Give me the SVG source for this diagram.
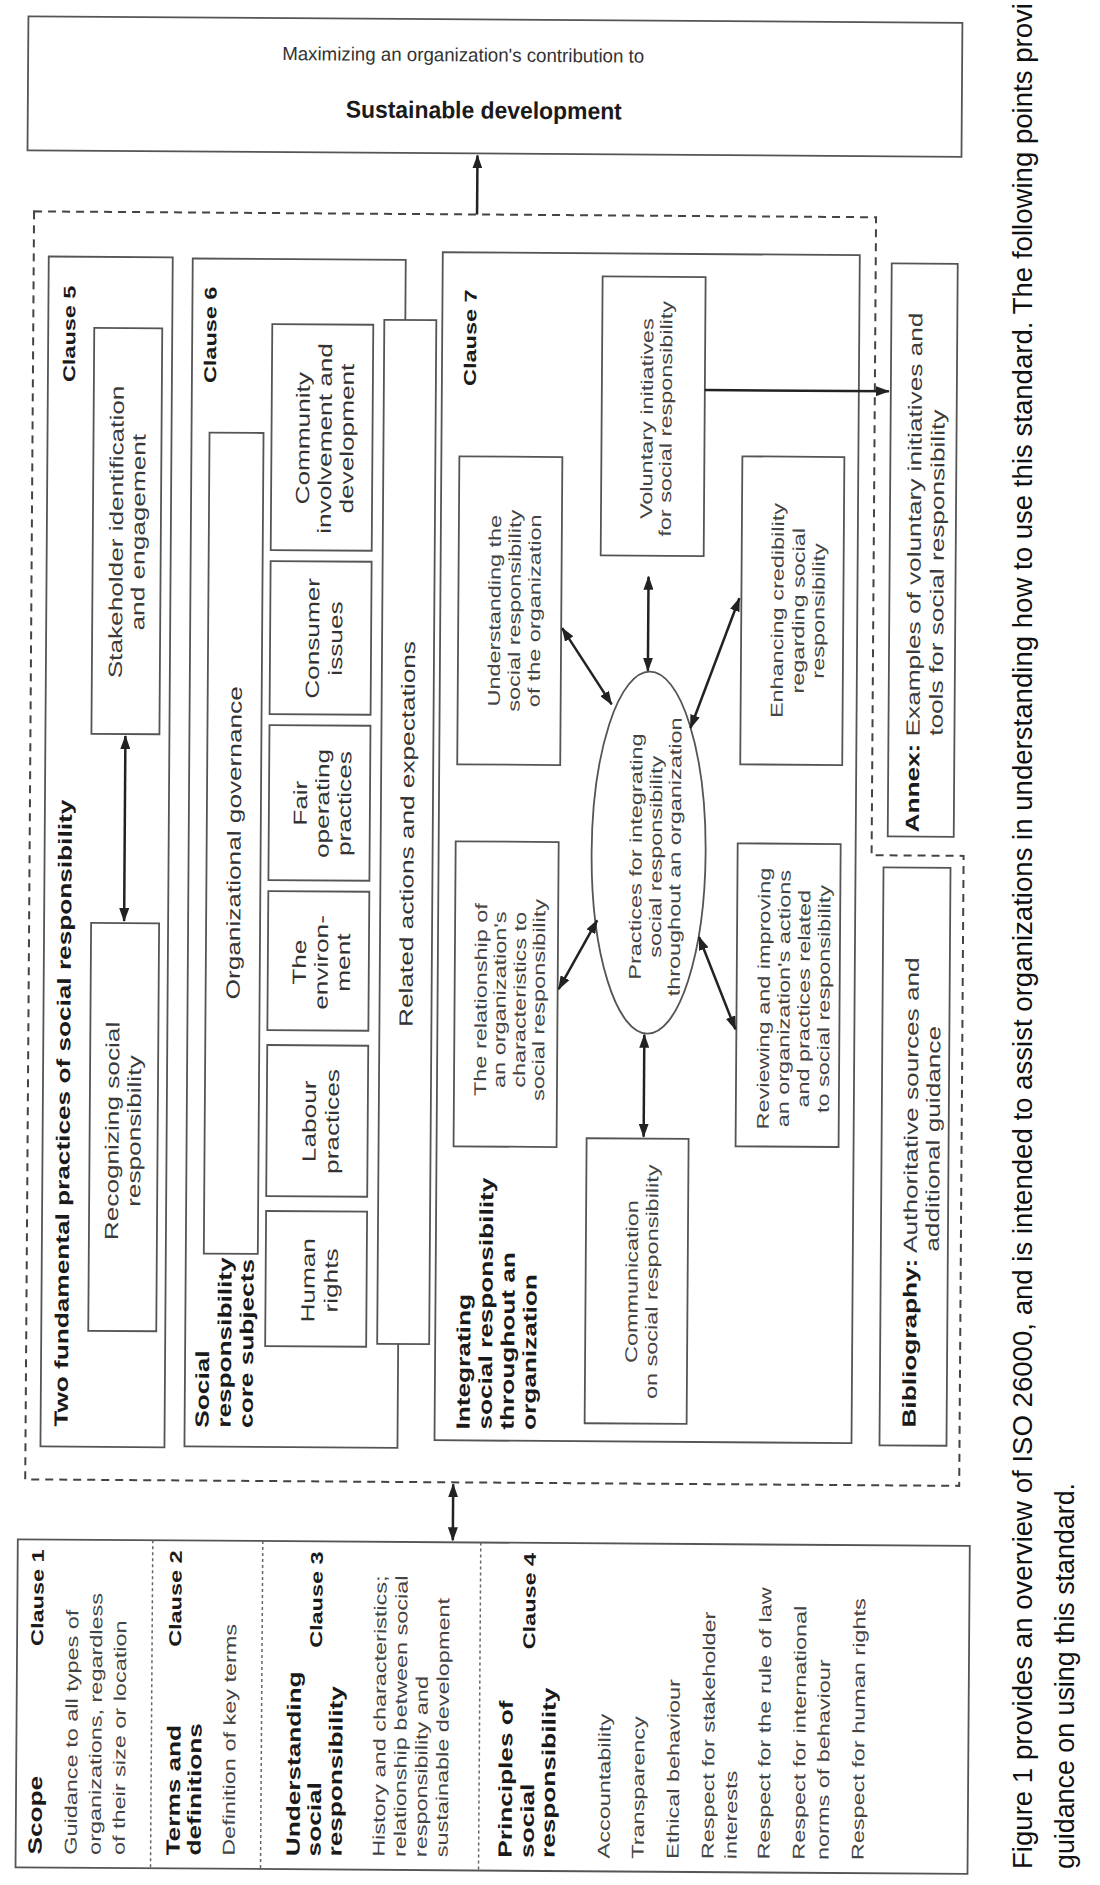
<svg xmlns="http://www.w3.org/2000/svg" width="1100" height="1885" viewBox="0 0 1100 1885">
<defs>
<marker id="ah" viewBox="0 0 14 10" refX="13" refY="5" markerWidth="14" markerHeight="10" markerUnits="userSpaceOnUse" orient="auto-start-reverse">
<path d="M0,0 L14,5 L0,10 z" fill="#222"/>
</marker>
</defs>
<style>
.box{fill:#fff;stroke:#555;stroke-width:1.8}
.dash{fill:none;stroke:#444;stroke-width:2;stroke-dasharray:8 6}
.sep{stroke:#666;stroke-width:1.5;stroke-dasharray:3 3}
.arr{stroke:#222;stroke-width:2.5;fill:none}
text{font-family:"Liberation Sans",Arial,Helvetica,sans-serif}
.r{font-size:17px;fill:#444}
.m{font-size:19px;fill:#3a3a3a}
.rb{font-size:19px;font-weight:bold;fill:#1a1a1a}
.cl{font-size:17px;font-weight:bold;fill:#1a1a1a}
.cs{font-size:19px;fill:#333}
.mid{text-anchor:middle}
.end{text-anchor:end}
.cap{font-size:27px;fill:#111}
</style>
<rect width="1100" height="1885" fill="#fff"/>
<g id="figure" transform="rotate(0.4 550 940)">
<g id="sustainable-development">
<rect class="box" x="22" y="20" width="934" height="134"/>
<text x="457" y="62" text-anchor="middle" font-size="19" fill="#333" textLength="362" lengthAdjust="spacingAndGlyphs">Maximizing an organization's contribution to</text>
<text x="478" y="119" text-anchor="middle" font-size="24" font-weight="bold" fill="#1a1a1a" textLength="276" lengthAdjust="spacingAndGlyphs">Sustainable development</text>
</g>
<path id="dashed-frame" class="dash" d="M29,215 H871 V853 H963 V1483 H29 Z"/>
<g id="clause5">
<rect class="box" x="44" y="260" width="124" height="1190"/>
<text class="rb" transform="translate(71,1430) rotate(-90) scale(1.38,1)">Two fundamental practices of social responsibility</text>
<text class="cl end" transform="translate(71,289) rotate(-90) scale(1.38,1)">Clause 5</text>
</g>
<g id="stakeholder">
<rect class="box" x="90" y="331" width="68" height="406"/>
<text class="m mid" transform="translate(120,535) rotate(-90) scale(1.38,1)">Stakeholder identification</text>
<text class="m mid" transform="translate(142,535) rotate(-90) scale(1.38,1)">and engagement</text>
</g>
<g id="recognizing">
<rect class="box" x="91" y="926" width="68" height="408"/>
<text class="m mid" transform="translate(120,1134) rotate(-90) scale(1.38,1)">Recognizing social</text>
<text class="m mid" transform="translate(142,1134) rotate(-90) scale(1.38,1)">responsibility</text>
</g>
<g id="clause6">
<rect class="box" x="188" y="261" width="213" height="1188"/>
<text class="rb" transform="translate(212,1430) rotate(-90) scale(1.38,1)">Social</text>
<text class="rb" transform="translate(234,1430) rotate(-90) scale(1.38,1)">responsibility</text>
<text class="rb" transform="translate(256,1430) rotate(-90) scale(1.38,1)">core subjects</text>
<text class="cl end" transform="translate(212,289) rotate(-90) scale(1.38,1)">Clause 6</text>
</g>
<g id="org-governance">
<rect class="box" x="206" y="435" width="54" height="821"/>
<text class="cs mid" transform="translate(240,845) rotate(-90) scale(1.38,1)">Organizational governance</text>
</g>
<g id="community">
<rect class="box" x="268" y="326" width="101" height="226"/>
<text class="cs mid" transform="translate(306,440) rotate(-90) scale(1.38,1)">Community</text>
<text class="cs mid" transform="translate(328,440) rotate(-90) scale(1.38,1)">involvement and</text>
<text class="cs mid" transform="translate(350,440) rotate(-90) scale(1.38,1)">development</text>
</g>
<g id="consumer">
<rect class="box" x="268" y="563" width="101" height="153"/>
<text class="cs mid" transform="translate(317,640) rotate(-90) scale(1.38,1)">Consumer</text>
<text class="cs mid" transform="translate(340,640) rotate(-90) scale(1.38,1)">issues</text>
</g>
<g id="fair">
<rect class="box" x="268" y="727" width="101" height="155"/>
<text class="cs mid" transform="translate(306,805) rotate(-90) scale(1.38,1)">Fair</text>
<text class="cs mid" transform="translate(328,805) rotate(-90) scale(1.38,1)">operating</text>
<text class="cs mid" transform="translate(350,805) rotate(-90) scale(1.38,1)">practices</text>
</g>
<g id="environment">
<rect class="box" x="268" y="893" width="101" height="139"/>
<text class="cs mid" transform="translate(306,964) rotate(-90) scale(1.38,1)">The</text>
<text class="cs mid" transform="translate(328,964) rotate(-90) scale(1.38,1)">environ-</text>
<text class="cs mid" transform="translate(350,964) rotate(-90) scale(1.38,1)">ment</text>
</g>
<g id="labour">
<rect class="box" x="268" y="1047" width="101" height="151"/>
<text class="cs mid" transform="translate(317,1123) rotate(-90) scale(1.38,1)">Labour</text>
<text class="cs mid" transform="translate(340,1123) rotate(-90) scale(1.38,1)">practices</text>
</g>
<g id="human-rights">
<rect class="box" x="268" y="1213" width="101" height="135"/>
<text class="cs mid" transform="translate(317,1282) rotate(-90) scale(1.38,1)">Human</text>
<text class="cs mid" transform="translate(340,1282) rotate(-90) scale(1.38,1)">rights</text>
</g>
<g id="related-actions">
<rect class="box" x="380" y="321" width="52" height="1024"/>
<text class="cs mid" transform="translate(413,835) rotate(-90) scale(1.38,1)">Related actions and expectations</text>
</g>
<g id="clause7">
<rect class="box" x="438" y="253" width="417" height="1188"/>
<text class="rb" transform="translate(473,1430) rotate(-90) scale(1.38,1)">Integrating</text>
<text class="rb" transform="translate(495,1430) rotate(-90) scale(1.38,1)">social responsibility</text>
<text class="rb" transform="translate(517,1430) rotate(-90) scale(1.38,1)">throughout an</text>
<text class="rb" transform="translate(539,1430) rotate(-90) scale(1.38,1)">organization</text>
<text class="cl end" transform="translate(472,290) rotate(-90) scale(1.38,1)">Clause 7</text>
</g>
<g id="understanding">
<rect class="box" x="456" y="457" width="103" height="308"/>
<text class="r mid" transform="translate(498,611) rotate(-90) scale(1.38,1)">Understanding the</text>
<text class="r mid" transform="translate(518,611) rotate(-90) scale(1.38,1)">social responsibility</text>
<text class="r mid" transform="translate(538,611) rotate(-90) scale(1.38,1)">of the organization</text>
</g>
<g id="relationship">
<rect class="box" x="455" y="842" width="103" height="305"/>
<text class="r mid" transform="translate(487,1000) rotate(-90) scale(1.38,1)">The relationship of</text>
<text class="r mid" transform="translate(506,1000) rotate(-90) scale(1.38,1)">an organization's</text>
<text class="r mid" transform="translate(526,1000) rotate(-90) scale(1.38,1)">characteristics to</text>
<text class="r mid" transform="translate(545,1000) rotate(-90) scale(1.38,1)">social responsibility</text>
</g>
<g id="communication">
<rect class="box" x="588" y="1138" width="102" height="285"/>
<text class="r mid" transform="translate(640,1281) rotate(-90) scale(1.38,1)">Communication</text>
<text class="r mid" transform="translate(660,1281) rotate(-90) scale(1.38,1)">on social responsibility</text>
</g>
<g id="practices">
<ellipse cx="648" cy="852" rx="57" ry="181" fill="#fff" stroke="#555" stroke-width="1.8"/>
<text class="r mid" transform="translate(641,856) rotate(-90) scale(1.38,1)">Practices for integrating</text>
<text class="r mid" transform="translate(661,856) rotate(-90) scale(1.38,1)">social responsibility</text>
<text class="r mid" transform="translate(680,856) rotate(-90) scale(1.38,1)">throughout an organization</text>
</g>
<g id="voluntary">
<rect class="box" x="598" y="276" width="103" height="279"/>
<text class="r mid" transform="translate(649,418) rotate(-90) scale(1.38,1)">Voluntary initiatives</text>
<text class="r mid" transform="translate(668,418) rotate(-90) scale(1.38,1)">for social responsibility</text>
</g>
<g id="enhancing">
<rect class="box" x="739" y="455" width="102" height="308"/>
<text class="r mid" transform="translate(781,609) rotate(-90) scale(1.38,1)">Enhancing credibility</text>
<text class="r mid" transform="translate(802,609) rotate(-90) scale(1.38,1)">regarding social</text>
<text class="r mid" transform="translate(822,609) rotate(-90) scale(1.38,1)">responsibility</text>
</g>
<g id="reviewing">
<rect class="box" x="737" y="842" width="103" height="303"/>
<text class="r mid" transform="translate(770,997) rotate(-90) scale(1.38,1)">Reviewing and improving</text>
<text class="r mid" transform="translate(790,997) rotate(-90) scale(1.38,1)">an organization's actions</text>
<text class="r mid" transform="translate(810,997) rotate(-90) scale(1.38,1)">and practices related</text>
<text class="r mid" transform="translate(830,997) rotate(-90) scale(1.38,1)">to social responsibility</text>
</g>
<g id="annex">
<rect class="box" x="887" y="261" width="66" height="573"/>
<text class="m mid" transform="translate(918,570) rotate(-90) scale(1.38,1)"><tspan font-weight="bold" fill="#1a1a1a">Annex:</tspan> Examples of voluntary initiatives and</text>
<text class="m mid" transform="translate(941,570) rotate(-90) scale(1.38,1)">tools for social responsibility</text>
</g>
<g id="bibliography">
<rect class="box" x="883" y="865" width="67" height="578"/>
<text class="m" transform="translate(919,1425) rotate(-90) scale(1.38,1)"><tspan font-weight="bold" fill="#1a1a1a">Bibliography:</tspan> Authoritative sources and</text>
<text class="m" transform="translate(941,1249) rotate(-90) scale(1.38,1)">additional guidance</text>
</g>
<g id="clauses-1-4">
<rect class="box" x="22" y="1543" width="952" height="328"/>
<line class="sep" x1="157" y1="1543" x2="157" y2="1871"/>
<line class="sep" x1="267" y1="1543" x2="267" y2="1871"/>
<line class="sep" x1="485" y1="1543" x2="485" y2="1871"/>
<text class="rb" transform="translate(48,1858) rotate(-90) scale(1.38,1)">Scope</text>
<text class="cl end" transform="translate(48,1553) rotate(-90) scale(1.38,1)">Clause 1</text>
<text class="r" transform="translate(83,1858) rotate(-90) scale(1.38,1)">Guidance to all types of</text>
<text class="r" transform="translate(107,1858) rotate(-90) scale(1.38,1)">organizations, regardless</text>
<text class="r" transform="translate(131,1858) rotate(-90) scale(1.38,1)">of their size or location</text>
<text class="rb" transform="translate(186,1858) rotate(-90) scale(1.38,1)">Terms and</text>
<text class="rb" transform="translate(207,1858) rotate(-90) scale(1.38,1)">definitions</text>
<text class="cl end" transform="translate(186,1553) rotate(-90) scale(1.38,1)">Clause 2</text>
<text class="r" transform="translate(241,1858) rotate(-90) scale(1.38,1)">Definition of key terms</text>
<text class="rb" transform="translate(306,1858) rotate(-90) scale(1.38,1)">Understanding</text>
<text class="rb" transform="translate(327,1858) rotate(-90) scale(1.38,1)">social</text>
<text class="rb" transform="translate(348,1858) rotate(-90) scale(1.38,1)">responsibility</text>
<text class="cl end" transform="translate(327,1553) rotate(-90) scale(1.38,1)">Clause 3</text>
<text class="r" transform="translate(391,1858) rotate(-90) scale(1.38,1)">History and characteristics;</text>
<text class="r" transform="translate(412,1858) rotate(-90) scale(1.38,1)">relationship between social</text>
<text class="r" transform="translate(433,1858) rotate(-90) scale(1.38,1)">responsibility and</text>
<text class="r" transform="translate(454,1858) rotate(-90) scale(1.38,1)">sustainable development</text>
<text class="rb" transform="translate(518,1858) rotate(-90) scale(1.38,1)">Principles of</text>
<text class="rb" transform="translate(540,1858) rotate(-90) scale(1.38,1)">social</text>
<text class="rb" transform="translate(561,1858) rotate(-90) scale(1.38,1)">responsibility</text>
<text class="cl end" transform="translate(540,1553) rotate(-90) scale(1.38,1)">Clause 4</text>
<text class="r" transform="translate(616,1858) rotate(-90) scale(1.38,1)">Accountability</text>
<text class="r" transform="translate(650,1858) rotate(-90) scale(1.38,1)">Transparency</text>
<text class="r" transform="translate(685,1858) rotate(-90) scale(1.38,1)">Ethical behaviour</text>
<text class="r" transform="translate(720,1858) rotate(-90) scale(1.38,1)">Respect for stakeholder</text>
<text class="r" transform="translate(743,1858) rotate(-90) scale(1.38,1)">interests</text>
<text class="r" transform="translate(776,1858) rotate(-90) scale(1.38,1)">Respect for the rule of law</text>
<text class="r" transform="translate(811,1858) rotate(-90) scale(1.38,1)">Respect for international</text>
<text class="r" transform="translate(835,1858) rotate(-90) scale(1.38,1)">norms of behaviour</text>
<text class="r" transform="translate(870,1858) rotate(-90) scale(1.38,1)">Respect for human rights</text>
</g>
<g id="connectors">
<line class="arr" x1="472" y1="215" x2="472" y2="156" marker-end="url(#ah)"/>
<line class="arr" x1="124" y1="739" x2="124" y2="924" marker-start="url(#ah)" marker-end="url(#ah)"/>
<line class="arr" x1="457" y1="1485" x2="457" y2="1541" marker-start="url(#ah)" marker-end="url(#ah)"/>
<line class="arr" x1="560" y1="628" x2="610" y2="704" marker-start="url(#ah)" marker-end="url(#ah)"/>
<line class="arr" x1="646" y1="670" x2="646" y2="576" marker-start="url(#ah)" marker-end="url(#ah)"/>
<line class="arr" x1="689" y1="727" x2="737" y2="597" marker-start="url(#ah)" marker-end="url(#ah)"/>
<line class="arr" x1="597" y1="920" x2="559" y2="989" marker-start="url(#ah)" marker-end="url(#ah)"/>
<line class="arr" x1="645" y1="1034" x2="645" y2="1136" marker-start="url(#ah)" marker-end="url(#ah)"/>
<line class="arr" x1="699" y1="936" x2="736" y2="1028" marker-start="url(#ah)" marker-end="url(#ah)"/>
<line class="arr" x1="701" y1="389" x2="885" y2="389" marker-end="url(#ah)"/>
</g>
</g>
<g id="caption">
<text class="cap" transform="translate(1032,1869) rotate(-90)" textLength="1866" lengthAdjust="spacingAndGlyphs">Figure 1 provides an overview of ISO 26000, and is intended to assist organizations in understanding how to use this standard. The following points provi</text>
<text class="cap" transform="translate(1074,1869) rotate(-90)" textLength="386" lengthAdjust="spacingAndGlyphs">guidance on using this standard.</text>
</g>
</svg>
